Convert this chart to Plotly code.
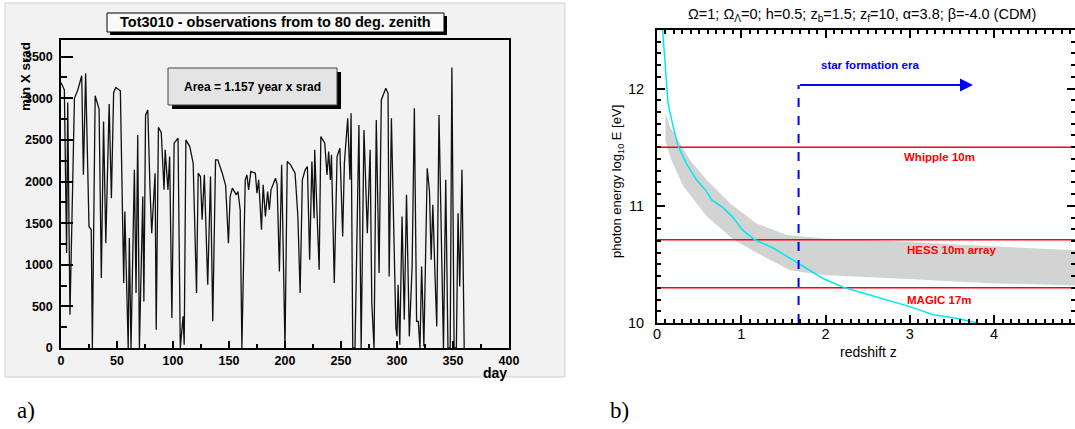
import plotly.graph_objects as go

W, H = 1075, 429

# ---- panel a) : observation time per day
days = [0, 3, 5, 6, 8, 12, 15, 18.5, 20, 22, 25, 27, 28, 30.5, 34, 36, 38, 40, 43, 45, 47, 49, 53,
        56, 57, 60, 61, 62.5, 65.5, 67, 68.5, 70, 73, 74, 75.5, 77.5, 79.5, 81, 84, 85, 87, 89.5,
        92, 93, 95.5, 97, 99, 101, 104.5, 106.5, 109, 110, 111.5, 115, 118, 121, 122.5, 124.5,
        126, 128, 131, 133.5, 135.5, 138, 140, 144, 147, 149.5, 151, 153, 156.5, 158, 160, 161.5,
        164.5, 166, 167.5, 169.5, 173.5, 175, 176.5, 179, 180.5, 182.5, 184.5, 186, 187.5, 189.5,
        191.5, 193, 195, 197, 200, 202, 205, 209, 211.5, 213.5, 215.5, 218, 220, 222, 224, 226,
        226.5, 230.5, 232, 235.5, 237.5, 239, 240.5, 241.5, 244, 246.5, 249, 251.5, 253, 256, 258,
        259, 260.5, 262.5, 266, 268, 270.5, 273.5, 276, 277.5, 279.5, 281.5, 284, 286, 290, 292,
        293, 295, 298, 299, 300, 301, 302.5, 304.5, 306.5, 308.5, 311, 313.5, 315.5, 317.5, 319,
        320.5, 322, 324, 327, 329, 330.5, 332, 334, 335.5, 337.5, 340, 341.5, 343.5, 345.5, 347.5,
        349, 351, 353, 354.5, 356, 358, 360]
minutes = [3190, 3100, 1140, 2950, 400, 3000, 3100, 3270, 2080, 3300, 1460, 1420, 0, 3030, 2870,
           840, 2720, 1260, 2930, 1800, 3070, 3130, 3090, 780, 1640, 0, 1320, 0, 2140, 660, 2560,
           0, 1820, 560, 2800, 2860, 1900, 1380, 2100, 220, 2650, 2590, 1900, 2380, 1900, 2300,
           360, 2460, 2520, 0, 380, 40, 2500, 2420, 2220, 660, 2100, 2060, 1540, 2080, 760, 2060,
           320, 2260, 2260, 2100, 1950, 1260, 1820, 1920, 1840, 1880, 1660, 0, 2020, 2080, 1900,
           2120, 2100, 1860, 2020, 1420, 1960, 1580, 1880, 1660, 1900, 1960, 2040, 1960, 920, 2200,
           0, 2240, 2200, 2100, 1580, 660, 2020, 2140, 2180, 1060, 2240, 1560, 2380, 940, 2540,
           2460, 2080, 2360, 2020, 2320, 780, 2300, 2400, 1340, 2220, 2760, 2020, 2820, 0, 0, 2680,
           0, 2620, 1380, 2380, 540, 0, 2740, 900, 2980, 3120, 3060, 860, 2760, 1060, 240, 140,
           760, 40, 1580, 340, 1840, 140, 980, 2880, 320, 320, 0, 980, 20, 2160, 1880, 1060, 1720,
           840, 260, 2800, 820, 0, 2020, 0, 0, 3370, 0, 0, 1620, 740, 2140, 0]
day_ticks = [0, 50, 100, 150, 200, 250, 300, 350, 400]
min_ticks = [0, 500, 1000, 1500, 2000, 2500, 3000, 3500]

# ---- panel b) : gamma-ray horizon
horizon_z = [0.067, 0.095, 0.13, 0.19, 0.25, 0.35, 0.47, 0.57, 0.65, 0.79, 0.89, 1.02, 1.16, 1.38,
             1.58, 1.70, 1.97, 2.23, 2.37, 2.68, 3.0, 3.28, 3.55, 3.81]
horizon_e = [12.5, 12.19, 11.88, 11.68, 11.51, 11.36, 11.22, 11.14, 11.05, 10.98, 10.91, 10.79,
             10.71, 10.64, 10.55, 10.50, 10.38, 10.30, 10.27, 10.21, 10.14, 10.07, 10.04, 10.0]

band_up_z = [0.10, 0.15, 0.25, 0.39, 0.59, 0.87, 1.18, 1.54, 1.97, 2.76, 3.55, 4.34, 4.96]
band_up_e = [11.80, 11.68, 11.56, 11.39, 11.22, 11.02, 10.85, 10.75, 10.72, 10.70, 10.67, 10.64, 10.62]
band_lo_z = [0.10, 0.17, 0.31, 0.59, 0.91, 1.26, 1.58, 1.97, 2.37, 3.16, 3.95, 4.96]
band_lo_e = [11.55, 11.39, 11.17, 10.91, 10.71, 10.57, 10.45, 10.41, 10.40, 10.37, 10.34, 10.32]

telescopes = ["Whipple 10m", "HESS 10m array", "MAGIC 17m"]
thresholds = [11.5, 10.71, 10.30]
label_z = [3.35, 3.49, 3.35]
label_e = [11.42, 10.62, 10.20]

star_z = 1.68
star_top = 12.03
star_arrow_end = 3.75


def px(x):
    return x / W


def py(y):
    return 1 - y / H


fig = go.Figure()

fig.add_trace(go.Scatter(x=days, y=minutes, mode="lines", xaxis="x", yaxis="y",
                         line=dict(color="#111111", width=1.3), showlegend=False))

band_x = band_up_z + band_lo_z[::-1]
band_y = band_up_e + band_lo_e[::-1]
fig.add_trace(go.Scatter(x=band_x, y=band_y, mode="lines", fill="toself", fillcolor="#d3d3d3",
                         line=dict(width=0), xaxis="x2", yaxis="y2", showlegend=False))

for lvl in thresholds:
    fig.add_trace(go.Scatter(x=[0, 5], y=[lvl, lvl], mode="lines", xaxis="x2", yaxis="y2",
                             line=dict(color="#ff0000", width=1.5), showlegend=False))

fig.add_trace(go.Scatter(x=horizon_z, y=horizon_e, mode="lines", xaxis="x2", yaxis="y2",
                         line=dict(color="#00e8f0", width=1.5), showlegend=False))

fig.add_trace(go.Scatter(x=[star_z, star_z], y=[10, star_top], mode="lines", xaxis="x2", yaxis="y2",
                         line=dict(color="#0000ff", width=2, dash="dash"), showlegend=False))

shapes = [
    dict(type="rect", xref="paper", yref="paper", x0=px(5), x1=px(565), y0=py(377), y1=py(3),
         fillcolor="#f2f2f2", line=dict(color="#cfcfcf", width=1), layer="below"),
    dict(type="rect", xref="paper", yref="paper", x0=px(110), x1=px(447), y0=py(35), y1=py(16),
         fillcolor="#000000", line=dict(width=0), layer="above"),
    dict(type="rect", xref="paper", yref="paper", x0=px(107), x1=px(444), y0=py(32), y1=py(13),
         fillcolor="#fafafa", line=dict(color="#000000", width=1), layer="above"),
    dict(type="rect", xref="paper", yref="paper", x0=px(172), x1=px(341), y0=py(109), y1=py(72),
         fillcolor="#000000", line=dict(width=0), layer="above"),
    dict(type="rect", xref="paper", yref="paper", x0=px(168), x1=px(337), y0=py(105), y1=py(68),
         fillcolor="#e4e4e4", line=dict(color="#444444", width=1), layer="above"),
]

bold = dict(family="Liberation Sans", size=12.5, color="black")
plain = dict(family="Liberation Sans", size=14.5, color="black")

fig.update_layout(
    width=W, height=H,
    margin=dict(l=0, r=0, t=0, b=0, autoexpand=False),
    paper_bgcolor="white",
    plot_bgcolor="rgba(0,0,0,0)",
    shapes=shapes,
    xaxis=dict(domain=[px(61), px(509)], range=[0, 400], anchor="y",
               tickvals=day_ticks, ticktext=[f"<b>{v}</b>" for v in day_ticks],
               ticks="inside", ticklen=7, tickwidth=1.5, tickcolor="black",
               minor=dict(dtick=25, ticks="inside", ticklen=4, tickcolor="black"),
               showline=True, linecolor="black", linewidth=1.5, mirror=True,
               showgrid=False, zeroline=False, tickfont=bold),
    yaxis=dict(domain=[py(348), py(40)], range=[0, 3700], anchor="x",
               tickvals=min_ticks, ticktext=[f"<b>{v}</b>" for v in min_ticks],
               ticks="inside", ticklen=12, tickwidth=1.5, tickcolor="black",
               minor=dict(dtick=250, ticks="inside", ticklen=6, tickcolor="black"),
               showline=True, linecolor="black", linewidth=1.5, mirror=True,
               showgrid=False, zeroline=False, tickfont=bold, ticklabelstandoff=4),
    xaxis2=dict(domain=[px(657), 1.0], range=[0, 4.96], anchor="y2",
                tickvals=[0, 1, 2, 3, 4],
                ticks="inside", ticklen=8, tickwidth=1.5, tickcolor="black",
                minor=dict(dtick=0.1, ticks="inside", ticklen=4, tickcolor="black"),
                showline=True, linecolor="black", linewidth=2, mirror="allticks",
                showgrid=False, zeroline=False, tickfont=plain, ticklabelstandoff=-3),
    yaxis2=dict(domain=[py(323), py(30)], range=[10, 12.5], anchor="x2",
                tickvals=[10, 11, 12],
                ticks="inside", ticklen=8, tickwidth=1.5, tickcolor="black",
                minor=dict(dtick=0.1, ticks="inside", ticklen=4, tickcolor="black"),
                showline=True, linecolor="black", linewidth=2, mirror="allticks",
                showgrid=False, zeroline=False, tickfont=plain, ticklabelstandoff=8),
)

# text placed in page pixels
page_texts = [
    (275, 22, "<b>Tot3010 - observations from to 80 deg. zenith</b>", 14.5, 0, "center", "Liberation Sans"),
    (252, 87, "<b>Area = 1.157 year x srad</b>", 12, 0, "center", "Liberation Sans"),
    (25, 77, "<b>min X srad</b>", 13.5, -90, "center", "Liberation Sans"),
    (509, 373, "<b>day</b>", 14, 0, "right", "Liberation Sans"),
    (862, 15, "Ω=1; Ω<sub>Λ</sub>=0; h=0.5; z<sub>b</sub>=1.5; z<sub>f</sub>=10, α=3.8; β=-4.0 (CDM)",
     14.5, 0, "center", "Liberation Sans"),
    (617, 182, "photon energy log<sub>10</sub> E [eV]", 13, -90, "center", "Liberation Sans"),
    (868, 352, "redshift z", 14, 0, "center", "Liberation Sans"),
    (26, 410, "a)", 23, 0, "center", "Liberation Serif"),
    (619, 410, "b)", 23, 0, "center", "Liberation Serif"),
]
for x, y, txt, size, angle, anchor, fam in page_texts:
    fig.add_annotation(x=px(x), y=py(y), xref="paper", yref="paper", text=txt, showarrow=False,
                       textangle=angle, xanchor=anchor, yanchor="middle",
                       font=dict(family=fam, size=size, color="black"))

fig.add_annotation(x=star_arrow_end, y=star_top, ax=star_z, ay=star_top, xref="x2", yref="y2",
                   axref="x2", ayref="y2", text="", showarrow=True, arrowhead=2, arrowsize=1.3,
                   arrowwidth=2, arrowcolor="#0000ff")
fig.add_annotation(x=2.53, y=12.2, xref="x2", yref="y2", text="<b>star formation era</b>",
                   showarrow=False, font=dict(family="Liberation Sans", size=11.5, color="#0000ff"))

for name, zx, ey in zip(telescopes, label_z, label_e):
    fig.add_annotation(x=zx, y=ey, xref="x2", yref="y2", text=f"<b>{name}</b>", showarrow=False,
                       font=dict(family="Liberation Sans", size=11.5, color="#ff0000"))

fig.write_html("out.html", config={"displayModeBar": False},
               post_script="document.body.style.margin='0px';")
